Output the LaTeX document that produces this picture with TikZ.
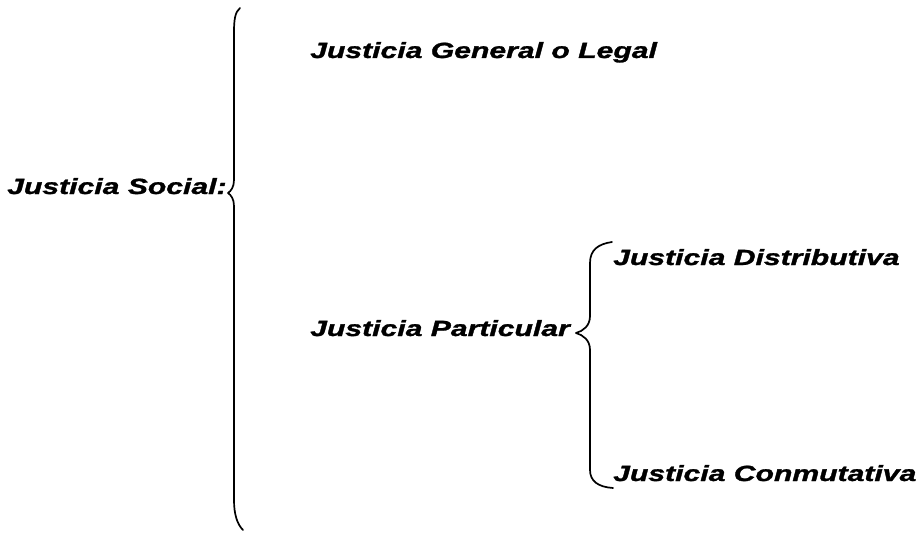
\documentclass[tikz,border=0pt]{standalone}
\usepackage{fontspec}
\setmainfont{Liberation Sans}[BoldItalicFeatures={FakeBold=1.2}]
\tikzset{
	rama/.style={font=\bfseries\itshape\fontsize{22}{26}\selectfont,inner sep=0pt,anchor=base west},
	llave/.style={line width=1.7pt,line join=round,line cap=round}
}
\newcommand{\ancho}[1]{\scalebox{1.37}[1]{#1}}
\begin{document}
\begin{tikzpicture}[x=1pt,y=-1pt]
			\useasboundingbox (0,0) rectangle (923,535);
			\node[rama] (social) at (7,194) {\ancho{Justicia Social:}};
			\node[rama] (general) at (310,58) {\ancho{Justicia General o Legal}};
			\node[rama] (particular) at (310,336) {\ancho{Justicia Particular}};
			\node[rama] (distrib) at (613,265) {\ancho{Justicia Distributiva}};
			\node[rama] (conmut) at (613,481) {\ancho{Justicia Conmutativa}};

			% llave grande
			\draw[llave] (240,8) .. controls (235,12) and (234,20) .. (234,32) -- (234,180)
				.. controls (234,187) and (231,191) .. (228,193)
				.. controls (231,195) and (234,199) .. (234,206) -- (234,500)
				.. controls (234,514) and (237,524) .. (243,530);
			% llave pequena
			\draw[llave] (612,242) .. controls (598,244) and (590,250) .. (590,263) -- (590,316)
				.. controls (590,326) and (583,331) .. (576,333)
				.. controls (583,335) and (590,340) .. (590,350) -- (590,470)
				.. controls (590,481) and (598,487) .. (613,488);
		\end{tikzpicture}
\end{document}
